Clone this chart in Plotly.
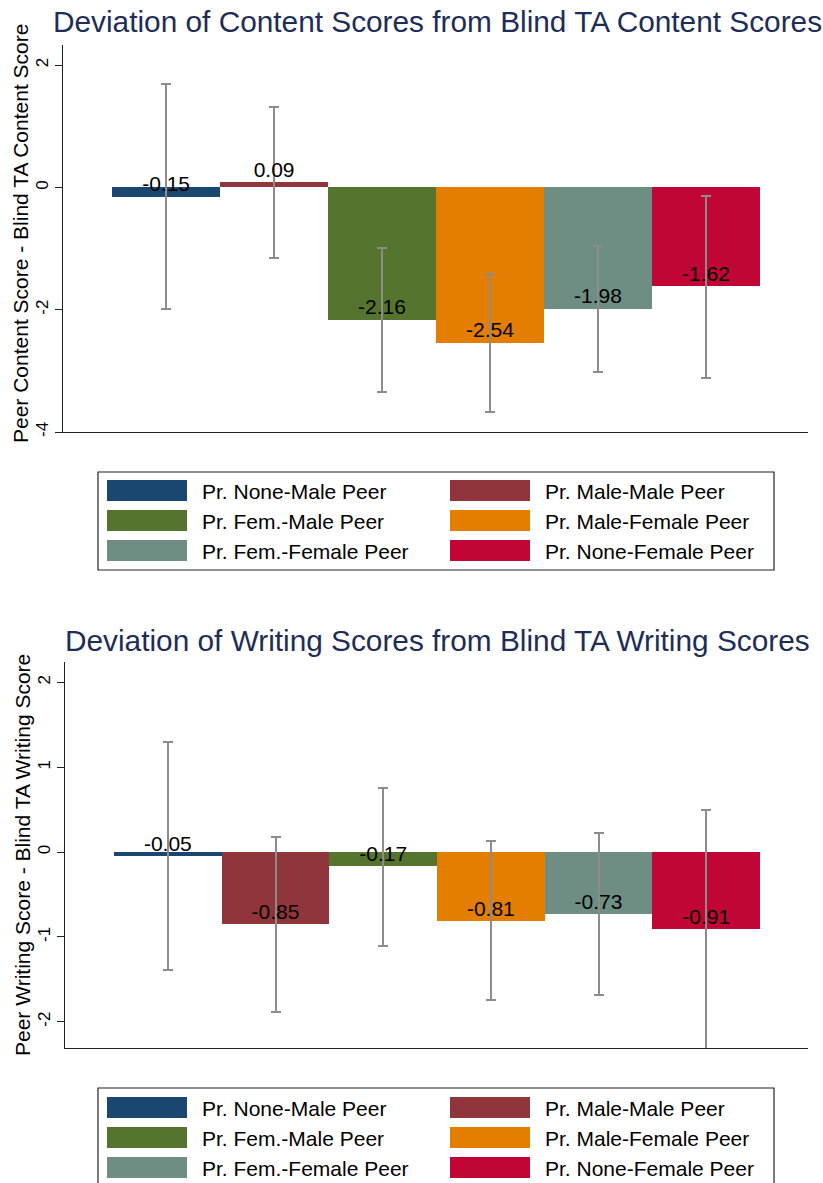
import plotly.graph_objects as go

# ---------------- data ----------------
groups = ["Pr. None-Male Peer", "Pr. Male-Male Peer", "Pr. Fem.-Male Peer",
          "Pr. Male-Female Peer", "Pr. Fem.-Female Peer", "Pr. None-Female Peer"]
colors = ["#1a476f", "#90353b", "#55752f", "#e37e00", "#6e8e84", "#c10534"]

content_vals = [-0.15, 0.09, -2.16, -2.54, -1.98, -1.62]
content_hi = [1.70, 1.32, -0.99, -1.41, -0.96, -0.14]
content_lo = [-1.99, -1.15, -3.34, -3.67, -3.02, -3.11]

writing_vals = [-0.05, -0.85, -0.17, -0.81, -0.73, -0.91]
writing_hi = [1.30, 0.18, 0.76, 0.13, 0.23, 0.49]
writing_lo = [-1.39, -1.88, -1.11, -1.75, -1.69, -2.36]

content_ticks = [-4, -2, 0, 2]
writing_ticks = [-2, -1, 0, 1, 2]

titles = ["Deviation of Content Scores from Blind TA Content Scores",
          "Deviation of Writing Scores from Blind TA Writing Scores"]
ytitles = ["Peer Content Score - Blind TA Content Score",
           "Peer Writing Score - Blind TA Writing Score"]

# ---------------- layout helpers ----------------
W, H = 823, 1183
FONT = "Liberation Sans, Arial, Helvetica, sans-serif"
TITLE_COLOR = "#1e2d57"


def px(x):
    return x / W


def py(y):
    return 1 - y / H


fig = go.Figure()
xpos = list(range(len(groups)))

panels = [
    dict(vals=content_vals, hi=content_hi, lo=content_lo, ticks=content_ticks,
         xa="x", ya="y", xdom=[px(63), px(808)], ydom=[py(432), py(45)],
         yrange=[-4.0, 2.33], title_y=22, ytitle_x=21, ytitle_y=234,
         leg_top=472, leg_bot=570, row0=480),
    dict(vals=writing_vals, hi=writing_hi, lo=writing_lo, ticks=writing_ticks,
         xa="x2", ya="y2", xdom=[px(65), px(808)], ydom=[py(1048), py(662)],
         yrange=[-2.31, 2.24], title_y=640, ytitle_x=22, ytitle_y=855,
         leg_top=1088, leg_bot=1200, row0=1097),
]

shapes = []
annotations = []

for i, p in enumerate(panels):
    vals = p["vals"]
    fig.add_trace(go.Bar(
        x=xpos, y=vals, width=1.0,
        marker=dict(color=colors, line=dict(width=0)),
        error_y=dict(type="data", symmetric=False,
                     array=[h - v for h, v in zip(p["hi"], vals)],
                     arrayminus=[v - l for v, l in zip(vals, p["lo"])],
                     color="#8c8c8c", thickness=2, width=5),
        xaxis=p["xa"], yaxis=p["ya"], showlegend=False, hoverinfo="skip",
    ))
    fig.add_trace(go.Scatter(
        x=xpos, y=vals, mode="text",
        text=[f"{v:.2f}" for v in vals], textposition="top center",
        textfont=dict(family=FONT, size=21, color="black"),
        xaxis=p["xa"], yaxis=p["ya"], showlegend=False, hoverinfo="skip",
        cliponaxis=False,
    ))

    axsuffix = "" if i == 0 else "2"
    fig.layout["xaxis" + axsuffix] = dict(
        domain=p["xdom"], range=[-0.955, 5.945], anchor=p["ya"],
        showticklabels=False, ticks="", showgrid=False, zeroline=False,
        showline=True, linecolor="#222222", linewidth=1.3, fixedrange=True,
    )
    fig.layout["yaxis" + axsuffix] = dict(
        domain=p["ydom"], range=p["yrange"], anchor=p["xa"],
        tickvals=p["ticks"], ticktext=[str(t) for t in p["ticks"]],
        tickangle=-90, ticks="outside", ticklen=7, tickcolor="#222222",
        tickwidth=1.2,
        tickfont=dict(family=FONT, size=17, color="black"),
        showgrid=False, zeroline=False,
        showline=True, linecolor="#222222", linewidth=1.3,
        fixedrange=True,
    )

    # y-axis title
    annotations.append(dict(
        text=ytitles[i], xref="paper", yref="paper", textangle=-90,
        x=px(p["ytitle_x"]), y=py(p["ytitle_y"]), xanchor="center", yanchor="middle",
        showarrow=False, font=dict(family=FONT, size=21, color="black"),
    ))

    # chart title
    annotations.append(dict(
        text=titles[i], xref="paper", yref="paper",
        x=px(437), y=py(p["title_y"]), xanchor="center", yanchor="middle",
        showarrow=False, font=dict(family=FONT, size=29.8, color=TITLE_COLOR),
    ))

    # legend box
    shapes.append(dict(type="rect", xref="paper", yref="paper",
                       x0=px(98), x1=px(774), y0=py(p["leg_bot"]), y1=py(p["leg_top"]),
                       line=dict(color="#222222", width=1.2), fillcolor="white",
                       layer="below"))
    for k, name in enumerate(groups):
        col, row = k % 2, k // 2
        sx0 = 107 if col == 0 else 450
        sy0 = p["row0"] + 30 * row
        shapes.append(dict(type="rect", xref="paper", yref="paper",
                           x0=px(sx0), x1=px(sx0 + 80), y0=py(sy0 + 21), y1=py(sy0),
                           line=dict(width=0), fillcolor=colors[k]))
        annotations.append(dict(
            text=name, xref="paper", yref="paper",
            x=px(sx0 + 93), y=py(sy0 + 11), xanchor="left", yanchor="middle",
            showarrow=False, font=dict(family=FONT, size=21, color="black"),
        ))

fig.update_layout(
    width=W, height=H,
    margin=dict(l=0, r=0, t=0, b=0, autoexpand=False),
    paper_bgcolor="white", plot_bgcolor="white",
    bargap=0, showlegend=False,
    shapes=shapes, annotations=annotations,
    font=dict(family=FONT),
)

fig.write_html("out.html", config={"displayModeBar": False},
               post_script="document.body.style.margin='0px';document.body.style.overflow='hidden';")
